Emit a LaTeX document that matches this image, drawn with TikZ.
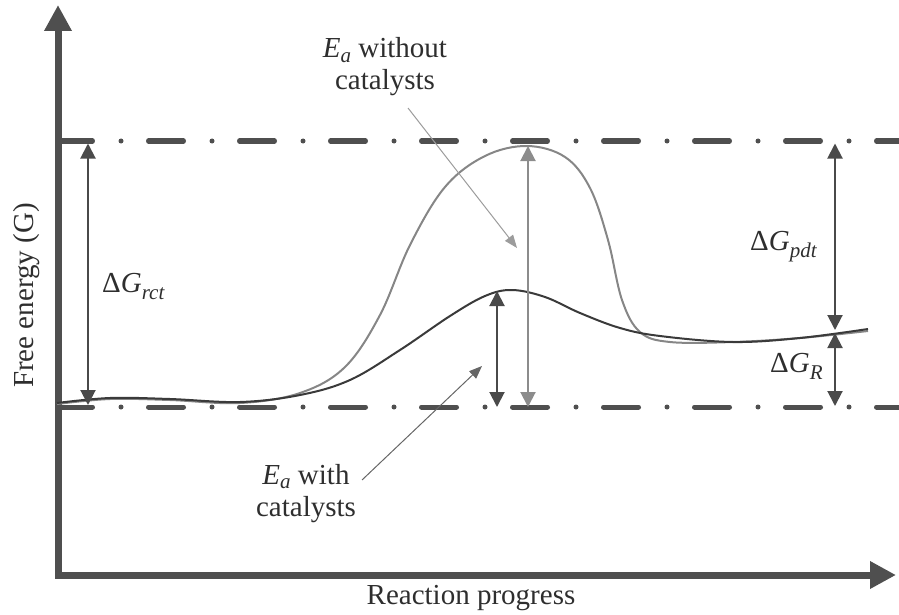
\documentclass[tikz,border=0pt]{standalone}
\usepackage{fontspec}
\setmainfont{Liberation Serif}
\usetikzlibrary{arrows.meta}
\definecolor{axc}{HTML}{4F4F4F}
\definecolor{curveblack}{HTML}{3A3A3A}
\definecolor{curvegray}{HTML}{868686}
\definecolor{arrowdark}{HTML}{4A4A4A}
\definecolor{arrowgray}{HTML}{8C8C8C}
\definecolor{annlight}{HTML}{9C9C9C}
\definecolor{anndark}{HTML}{666666}
\definecolor{txt}{HTML}{2E2E2E}
\newcommand\lblsub[1]{\raisebox{-0.25em}{\fontsize{21}{21}\selectfont\itshape #1}}
\newcommand\easub[1]{\raisebox{-0.17em}{\fontsize{21}{21}\selectfont\itshape #1}}
\begin{document}
\begin{tikzpicture}[x=1pt,y=-1pt,
  lbl/.style={font=\fontsize{29}{31}\selectfont, text=txt, inner sep=0pt},
  twoline/.style={lbl, align=center, font=\fontsize{29}{32}\selectfont},
  axisline/.style={draw=axc, line width=7pt, line join=miter,
    {Triangle[width=26pt,length=26pt]}-{Triangle[width=26pt,length=26pt]}},
  levelline/.style={draw=axc, line width=5pt, line cap=round,
    dash pattern=on 35pt off 28.5pt on 0pt off 27.5pt},
  dimarrow/.style={draw=#1, line width=2pt,
    {Triangle[width=15pt,length=15pt]}-{Triangle[width=15pt,length=15pt]}},
  annarrow/.style={draw=#1, line width=1pt, -{Triangle[width=10pt,length=13pt]}},
  curve/.style={draw=#1, line width=2pt, smooth, tension=0.6},
]
\useasboundingbox (0,0) rectangle (899,615);

% level lines
\coordinate (topL) at (57.5,141);
\coordinate (topR) at (905,141);
\coordinate (botL) at (57.5,407);
\coordinate (botR) at (905,407);
\draw[levelline] (topL) -- (topR);
\draw[levelline] (botL) -- (botR);

% axes
\coordinate (ytip) at (58,5);
\coordinate (origin) at (58,575);
\coordinate (xtip) at (896,575);
\draw[axisline] (ytip) -- (origin) -- (xtip);

% curves
\draw[curve=curvegray] plot coordinates {(57,404) (110,399) (170,400) (240,403) (300,393) (345,367) (380,315) (410,245) (445,187) (485,156) (527,146) (565,157) (590,188) (608,240) (622,300) (640,332) (670,342) (733,342) (800,338) (868,331)};
\draw[curve=curveblack] plot coordinates {(57,403) (110,398) (170,399) (240,402) (300,395) (350,380) (400,350) (450,316) (485,296) (512,290) (545,297) (580,313) (620,328) (660,336) (733,342) (800,338) (868,329)};

% dimension arrows
\coordinate (rctT) at (88,143.5);
\coordinate (rctB) at (88,405);
\draw[dimarrow=arrowdark] (rctT) -- (rctB);
\coordinate (eaT) at (528,146);
\coordinate (eaB) at (528,407);
\draw[dimarrow=arrowgray] (eaT) -- (eaB);
\coordinate (ecT) at (497,291);
\coordinate (ecB) at (497,407);
\draw[dimarrow=arrowdark] (ecT) -- (ecB);
\coordinate (pdtT) at (835,143.5);
\coordinate (pdtB) at (835,330);
\draw[dimarrow=arrowdark] (pdtT) -- (pdtB);
\coordinate (rT) at (835,333);
\coordinate (rB) at (835,406);
\draw[dimarrow=arrowdark] (rT) -- (rB);

% labels
\node[lbl, anchor=base west] (grct) at (102,292) {Δ\textit{G}\lblsub{rct}};
\node[lbl, anchor=base west] (gpdt) at (750,250) {Δ\textit{G}\lblsub{pdt}};
\node[lbl, anchor=base west] (gr) at (770,372) {Δ\textit{G}\lblsub{R}};

\node[twoline, anchor=base] (wo) at (385,90) {\textit{E}\easub{a} without\\catalysts};
\node[twoline, anchor=base] (wi) at (306,516) {\textit{E}\easub{a} with\\catalysts};

\node[lbl, anchor=base west, rotate=90] (ylab) at (33,388) {Free energy (G)};
\node[lbl, anchor=base] (xlab) at (471,604) {Reaction progress};

% annotation arrows
\coordinate (woS) at (408,108);
\coordinate (woE) at (517,248);
\draw[annarrow=annlight] (woS) -- (woE);
\coordinate (wiS) at (362,480);
\coordinate (wiE) at (482,366);
\draw[annarrow=anndark] (wiS) -- (wiE);
\end{tikzpicture}
\end{document}
